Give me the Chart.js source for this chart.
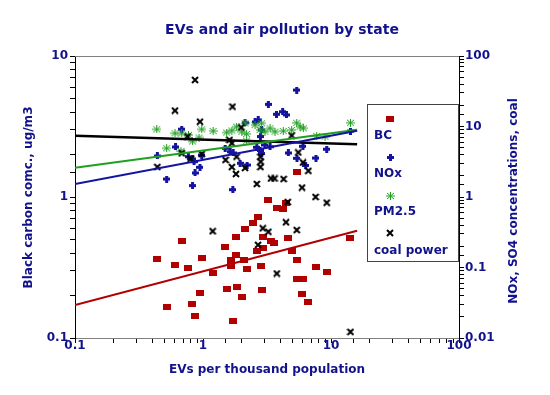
<!DOCTYPE html>
<html><head><meta charset="utf-8">
<script src="https://cdn.jsdelivr.net/npm/chart.js@4.4.1/dist/chart.umd.min.js"></script>
<style>html,body{margin:0;padding:0;background:#fff}canvas{display:block}</style>
</head><body>
<canvas id="c" width="550" height="395"></canvas>
<script>
// ---- text ----
const chartTitle = 'EVs and air pollution by state';
const xTitle = 'EVs per thousand population';
const yLeftTitle = 'Black carbon comc., ug/m3';
const yRightTitle = 'NOx, SO4 concentrations, coal';
const seriesNames = ['BC', 'NOx', 'PM2.5', 'coal power'];

// ---- tick labels ----
const xTickValues = [0.1, 1, 10, 100];
const xTickLabels = ['0.1', '1', '10', '100'];
const leftTickValues = [0.1, 1, 10];
const leftTickLabels = ['0.1', '1', '10'];
const rightTickValues = [0.01, 0.1, 1, 10, 100];
const rightTickLabels = ['0.01', '0.1', '1', '10', '100'];

// ---- BC (left axis) ----
const bcEV = [5.40,3.20,3.77,4.24,4.43,2.67,2.47,2.13,1.81,0.685,1.48,2.93,3.40,3.59,4.61,2.63,2.93,4.93,14.2,0.435,0.977,1.65,1.65,1.81,2.09,0.604,0.764,1.19,2.22,2.84,5.42,7.61,9.26,5.47,6.04,1.55,1.83,2.89,0.942,2.00,5.97,0.825,6.65,0.520,0.866,1.71];
const bcVal = [1.50,0.947,0.840,0.822,0.907,0.718,0.651,0.596,0.520,0.484,0.440,0.520,0.485,0.474,0.514,0.416,0.435,0.412,0.514,0.365,0.371,0.356,0.325,0.385,0.360,0.332,0.315,0.290,0.310,0.325,0.356,0.320,0.295,0.261,0.264,0.223,0.231,0.220,0.207,0.196,0.205,0.175,0.179,0.165,0.143,0.133];

// ---- NOx (right axis) ----
const noxEV = [5.40,3.24,3.75,4.19,4.49,2.70,2.55,2.13,0.682,0.610,0.440,0.768,0.831,0.947,0.866,0.520,0.828,1.71,0.977,2.87,2.81,14.2,3.05,2.63,2.79,2.87,1.63,1.72,1.95,2.21,4.64,6.04,9.26,5.42,7.63,6.34,0.851,1.49,3.34];
const noxVal = [32.9,20.6,14.9,16.2,14.6,12.4,11.6,11.3,9.16,5.12,3.82,3.73,3.46,2.64,2.19,1.80,1.45,1.27,3.94,8.92,7.21,8.63,5.47,5.07,4.57,4.14,4.39,4.21,3.01,2.84,4.21,5.24,4.76,3.54,3.57,2.80,3.17,4.91,5.17];

// ---- PM2.5 (right axis) ----
const pmEV = [0.435,0.520,0.604,0.682,0.770,0.828,0.977,1.20,1.53,1.68,1.83,2.01,2.13,2.19,2.55,2.79,2.87,3.05,3.34,3.65,4.24,4.93,5.40,5.73,6.08,7.73,8.98,14.2,0.931,2.19,0.673];
const pmVal = [9.12,4.91,8.01,7.96,7.57,6.13,9.12,8.63,8.22,8.77,9.94,8.44,11.1,7.83,10.5,8.92,11.1,8.44,9.43,8.44,8.63,8.92,11.3,9.94,9.43,7.33,7.17,11.3,6.98,6.29,4.49];

// ---- coal power (right axis) ----
const coalEV = [0.866,0.604,1.70,0.947,0.757,0.682,0.799,0.977,0.440,1.61,1.68,1.50,1.68,1.81,2.13,1.83,1.99,2.81,2.82,2.81,2.63,3.40,3.62,4.26,4.93,5.55,6.04,6.65,5.94,7.57,9.26,4.59,4.45,5.40,2.93,3.24,1.19,2.69,3.77,14.2];
const coalVal = [45.7,16.8,19.1,11.7,7.21,4.17,3.48,4.07,2.66,6.44,5.78,3.35,2.66,2.12,2.58,3.73,9.68,3.72,3.17,2.66,1.53,1.83,1.83,1.80,7.45,4.28,3.09,2.35,1.36,1.00,0.830,0.849,0.438,0.340,0.360,0.321,0.327,0.209,0.0822,0.0122];

// ---- fitted trend lines (endpoints) ----
const fitEV = [0.1, 16];
const bcFit = [0.171, 0.577];
const noxFit = [1.53, 8.72];
const pmFit = [2.60, 8.98];
const coalFit = [7.41, 5.59];

// ---- styles ----
const RED = '#b00000', BLUE = '#1414a0', GREEN = '#1ea01e', BLACK = '#000000', TXT = '#12128c';
const FONT = '"DejaVu Sans", sans-serif';

function mk(w, h, draw) { const c = document.createElement('canvas'); c.width = w; c.height = h; draw(c.getContext('2d')); return c; }
const bcImg = mk(8, 6, g => { g.fillStyle = RED; g.fillRect(0, 0, 8, 6); });
const noxImg = mk(7, 7, g => { g.fillStyle = BLUE; g.fillRect(0, 2, 7, 3); g.fillRect(2, 0, 3, 7); });
const pmImg = mk(9, 8, g => { g.strokeStyle = GREEN; g.lineWidth = 1; g.beginPath();
  g.moveTo(0, 4); g.lineTo(9, 4); g.moveTo(4.5, 0); g.lineTo(4.5, 8);
  g.moveTo(1, 1); g.lineTo(8, 7); g.moveTo(8, 1); g.lineTo(1, 7); g.stroke(); });
const coalImg = mk(8, 8, g => { g.strokeStyle = BLACK; g.lineWidth = 2; g.beginPath();
  g.moveTo(1, 1); g.lineTo(7, 7); g.moveTo(7, 1); g.lineTo(1, 7); g.stroke(); });

const pts = (xs, ys) => xs.map((x, i) => ({ x: x, y: ys[i] }));
function labelFor(values, labels) {
  return v => { for (let i = 0; i < values.length; i++) { if (Math.abs(Math.log10(v) - Math.log10(values[i])) < 1e-6) return labels[i]; } return ''; };
}

const scatterDs = (data, img, axis, order) => ({ data, yAxisID: axis, showLine: false, pointStyle: img, pointRadius: 4, pointHoverRadius: 4, order });
const lineDs = (data, color, axis, w) => ({ data, yAxisID: axis, showLine: true, borderColor: color, borderWidth: w, pointRadius: 0, pointHoverRadius: 0, fill: false, order: 0 });

const decoPlugin = {
  id: 'deco',
  afterDraw(chart) {
    const ctx = chart.ctx, a = chart.chartArea;
    ctx.save();
    // top border
    ctx.strokeStyle = '#808080'; ctx.lineWidth = 1;
    ctx.beginPath(); ctx.moveTo(a.left, a.top + 0.5); ctx.lineTo(a.right, a.top + 0.5); ctx.stroke();
    ctx.fillStyle = TXT;
    ctx.textAlign = 'center'; ctx.textBaseline = 'middle';
    ctx.font = 'bold 14px ' + FONT;
    ctx.fillText(chartTitle, 282, 30);
    ctx.font = 'bold 12px ' + FONT;
    ctx.fillText(xTitle, 267, 370);
    ctx.save(); ctx.translate(29, 197.5); ctx.rotate(-Math.PI / 2); ctx.fillText(yLeftTitle, 0, 0); ctx.restore();
    ctx.save(); ctx.translate(514, 201); ctx.rotate(-Math.PI / 2); ctx.fillText(yRightTitle, 0, 0); ctx.restore();
    // legend box
    ctx.strokeStyle = '#444'; ctx.lineWidth = 1;
    ctx.strokeRect(367.5, 104.5, 91, 157);
    const imgs = [bcImg, noxImg, pmImg, coalImg];
    const my = [119, 157, 196, 233], ty = [136, 174, 212, 251];
    ctx.textAlign = 'left';
    for (let i = 0; i < 4; i++) {
      const im = imgs[i];
      ctx.drawImage(im, Math.round(390 - im.width / 2), Math.round(my[i] - im.height / 2));
      ctx.fillStyle = TXT;
      ctx.fillText(seriesNames[i], 374, ty[i]);
    }
    ctx.restore();
  }
};

Chart.defaults.font.family = FONT;
Chart.defaults.font.weight = 'bold';
Chart.defaults.font.size = 12;

new Chart(document.getElementById('c'), {
  type: 'scatter',
  data: {
    datasets: [
      lineDs(pts(fitEV, bcFit), RED, 'y', 2),
      lineDs(pts(fitEV, noxFit), BLUE, 'y2', 2),
      lineDs(pts(fitEV, pmFit), GREEN, 'y2', 2),
      lineDs(pts(fitEV, coalFit), BLACK, 'y2', 2.5),
      scatterDs(pts(coalEV, coalVal), coalImg, 'y2', 1),
      scatterDs(pts(pmEV, pmVal), pmImg, 'y2', 2),
      scatterDs(pts(noxEV, noxVal), noxImg, 'y2', 3),
      scatterDs(pts(bcEV, bcVal), bcImg, 'y', 4)
    ]
  },
  options: {
    responsive: false,
    animation: false,
    devicePixelRatio: 1,
    layout: { padding: { top: 56, left: 0, right: 0, bottom: 0 } },
    plugins: { legend: { display: false }, tooltip: { enabled: false }, title: { display: false } },
    scales: {
      x: {
        type: 'logarithmic', position: 'bottom', min: 0.1, max: 100,
        grid: { drawOnChartArea: false, color: '#000', tickLength: 5 },
        border: { color: '#808080' },
        ticks: { autoSkip: false, maxRotation: 0, minRotation: 0, padding: -4, color: TXT, font: { size: 12, weight: 'bold' },
          callback: labelFor(xTickValues, xTickLabels) },
        afterFit(s) { s.height = 57; }
      },
      y: {
        type: 'logarithmic', position: 'left', min: 0.1, max: 10,
        grid: { drawOnChartArea: false, color: '#000', tickLength: 5 },
        border: { color: '#000' },
        ticks: { autoSkip: false, padding: 2, color: TXT, font: { size: 12, weight: 'bold' },
          callback: labelFor(leftTickValues, leftTickLabels) },
        afterFit(s) { s.width = 75; }
      },
      y2: {
        type: 'logarithmic', position: 'right', min: 0.01, max: 100,
        grid: { drawOnChartArea: false, color: '#000', tickLength: 5 },
        border: { color: '#000' },
        ticks: { autoSkip: false, padding: 1, color: TXT, font: { size: 12, weight: 'bold' },
          callback: labelFor(rightTickValues, rightTickLabels) },
        afterFit(s) { s.width = 91; }
      }
    }
  },
  plugins: [decoPlugin]
});
</script>
</body></html>
